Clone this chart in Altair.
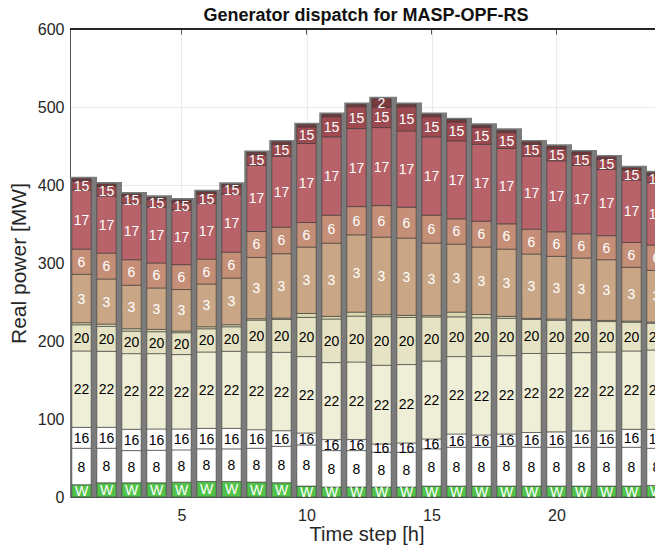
import altair as alt
import pandas as pd

# ---- data ----
steps = list(range(1, 25))
gen_order = ["W", "8", "16", "22", "20", "x", "3", "6", "17", "15", "2"]

W   = [15.7, 18.2, 18.2, 18.2, 19.0, 19.9, 19.9, 19.1, 18.3, 14.0, 12.8, 12.8,
       12.8, 12.8, 14.0, 14.0, 14.0, 14.0, 14.0, 14.0, 14.0, 14.0, 14.0, 14.8]
G8  = [46.8, 44.3, 41.3, 41.7, 41.4, 41.8, 41.8, 43.4, 46.7, 52.8, 46.7, 46.7,
       44.6, 44.6, 47.7, 49.8, 49.8, 51.1, 49.8, 49.8, 49.8, 49.8, 49.8, 47.7]
G16 = [26.8, 26.8, 27.3, 27.3, 26.8, 26.3, 26.3, 23.8, 20.0, 15.3, 14.1, 14.1,
       10.6, 11.9, 12.7, 17.0, 15.7, 15.7, 18.9, 19.7, 20.9, 20.9, 23.0, 24.3]
G22 = [97.9, 97.5, 97.0, 96.6, 95.4, 97.9, 98.8, 99.6, 100.5, 97.9, 98.7, 99.5,
       100.9, 100.5, 99.9, 99.2, 100.9, 100.4, 101.3, 100.5, 100.4, 101.2, 100.4, 101.7]
G20 = [33.6, 31.9, 28.9, 28.1, 28.0, 29.8, 31.4, 40.9, 42.2, 50.2, 55.9, 58.8,
       62.3, 60.4, 56.5, 51.0, 49.4, 47.9, 43.6, 42.7, 41.1, 39.0, 36.9, 34.3]
GX  = [2.6, 3.0, 3.0, 3.0, 2.1, 2.5, 2.6, 1.7, 1.7, 5.1, 3.4, 5.1,
       2.5, 2.7, 1.7, 6.0, 4.2, 2.5, 1.5, 1.5, 1.5, 1.5, 1.5, 1.5]
G3  = [62.1, 57.8, 55.8, 53.1, 53.3, 54.9, 59.9, 78.7, 82.5, 85.1, 93.9, 99.1,
       99.5, 99.0, 93.0, 87.2, 86.4, 86.2, 82.4, 80.3, 78.7, 77.8, 68.9, 66.3]
G6  = [32.3, 33.2, 32.7, 32.0, 31.9, 31.9, 33.2, 33.2, 34.0, 31.5, 35.8, 36.2,
       40.4, 39.6, 35.8, 32.4, 33.2, 32.4, 31.9, 31.5, 31.0, 30.8, 31.9, 32.4]
G17 = [75.8, 73.2, 72.4, 71.5, 70.2, 71.6, 74.6, 85.1, 91.1, 101.3, 100.4, 100.0,
       100.0, 97.8, 100.4, 100.0, 98.7, 96.6, 93.6, 91.0, 88.1, 85.0, 80.0, 79.9]
G15 = [11.4, 12.4, 8.9, 9.7, 9.7, 11.9, 9.4, 13.2, 15.3, 21.2, 25.9, 28.1,
       26.4, 31.1, 25.9, 24.2, 21.3, 20.4, 15.3, 15.8, 14.0, 13.1, 12.7, 9.8]
G2  = [3.0, 3.0, 3.0, 3.0, 3.0, 3.0, 3.0, 3.0, 3.0, 3.0, 3.0, 3.0,
       10.6, 3.0, 3.0, 3.0, 3.0, 3.0, 3.0, 3.0, 3.0, 3.0, 3.0, 3.0]

series = {"W": W, "8": G8, "16": G16, "22": G22, "20": G20, "x": GX,
          "3": G3, "6": G6, "17": G17, "15": G15, "2": G2}

gen_colors = ["#52c24a", "#ffffff", "#ffffff", "#efeed7", "#e5e3c3", "#d9d8ae",
              "#c9a786", "#c58f77", "#b8636a", "#9d4b51", "#7a3a3c"]
text_colors = {"W": "white", "8": "black", "16": "black", "22": "black",
               "20": "black", "x": "black", "3": "white", "6": "white",
               "17": "white", "15": "white", "2": "white"}

x_ticks = [5, 10, 15, 20]
y_ticks = [0, 100, 200, 300, 400, 500, 600]
title_text = ["Generator dispatch for MASP-OPF-RS"]

# ---- table for the library ----
rows = []
for i, t in enumerate(steps):
    base = 0.0
    for k, g in enumerate(gen_order):
        v = series[g][i]
        rows.append({"t": t, "gen": g, "value": v, "y0": base, "y1": base + v,
                     "ord": k, "tc": text_colors[g]})
        base += v
df = pd.DataFrame(rows)
tot = df.groupby("t", as_index=False)["value"].sum().rename(columns={"value": "total"})
ticks_df = pd.DataFrame({"tx": x_ticks})
title_df = pd.DataFrame({"label": title_text})

W_PLOT, H_PLOT = 593, 468
xscale = alt.Scale(domain=[0.54, 24.26], nice=False, zero=False)
yscale = alt.Scale(domain=[0, 600], nice=False)

FONT = "Liberation Sans"
xaxis = alt.Axis(values=x_ticks, title="Time step [h]", grid=True, ticks=False,
                 labelFontSize=16, titleFontSize=20, labelPadding=10, titlePadding=1,
                 titleFontWeight="normal")
yaxis = alt.Axis(values=y_ticks, title="Real power [MW]", grid=True, ticks=False,
                 labelFontSize=16, titleFontSize=21, labelPadding=6, titlePadding=8,
                 titleFontWeight="normal")

gray = alt.Chart(tot).transform_calculate(
    xa="datum.t - 0.49", xb="datum.t + 0.62", zero="0", top="datum.total + 2.5"
).mark_rect(color="#7b7b7b", clip=True).encode(
    x=alt.X("xa:Q", scale=xscale, axis=xaxis),
    x2="xb:Q",
    y=alt.Y("zero:Q", scale=yscale, axis=yaxis),
    y2="top:Q",
)

segs = alt.Chart(df).transform_calculate(
    xa="datum.t - 0.386", xb="datum.t + 0.386"
).mark_rect(stroke="#3a3a3a", strokeWidth=0.6, clip=True).encode(
    x=alt.X("xa:Q", scale=xscale),
    x2="xb:Q",
    y=alt.Y("y0:Q", scale=yscale),
    y2="y1:Q",
    color=alt.Color("gen:N", scale=alt.Scale(domain=gen_order, range=gen_colors), legend=None),
)

labels = alt.Chart(df).transform_filter("datum.value >= 7").transform_calculate(
    ym="(datum.y0 + datum.y1) / 2"
).mark_text(fontSize=14, font=FONT, baseline="middle", align="center", clip=True, dy=1).encode(
    x=alt.X("t:Q", scale=xscale),
    y=alt.Y("ym:Q", scale=yscale),
    text="gen:N",
    color=alt.Color("tc:N", scale=None),
)

top_line = alt.Chart(tot).mark_rule(color="#262626", strokeWidth=0.8).encode(
    x=alt.value(0), x2=alt.value(W_PLOT), y=alt.value(0)
)
top_ticks = alt.Chart(ticks_df).transform_calculate(a="600", b="593").mark_rule(
    color="#262626", strokeWidth=0.8
).encode(
    x=alt.X("tx:Q", scale=xscale), y=alt.Y("a:Q", scale=yscale), y2="b:Q"
)

title = alt.Chart(title_df).mark_text(
    font=FONT, fontSize=18, fontWeight="bold", color="#111111",
    align="center", baseline="middle"
).encode(x=alt.value(296), y=alt.value(-13), text="label:N")

chart = alt.layer(gray, segs, labels, top_line, top_ticks, title).properties(
    width=W_PLOT, height=H_PLOT,
    autosize=alt.AutoSizeParams(type="none"),
    padding={"left": 62, "top": 21, "right": -8, "bottom": 48},
).configure_view(stroke=None).configure_axis(
    labelFont=FONT, titleFont=FONT, labelColor="#262626", titleColor="#262626",
    domainColor="#262626", domainWidth=0.8, gridColor="#e3e3e3", gridWidth=0.7,
)

chart.save("out.html", embed_options={"renderer": "svg", "actions": False})
